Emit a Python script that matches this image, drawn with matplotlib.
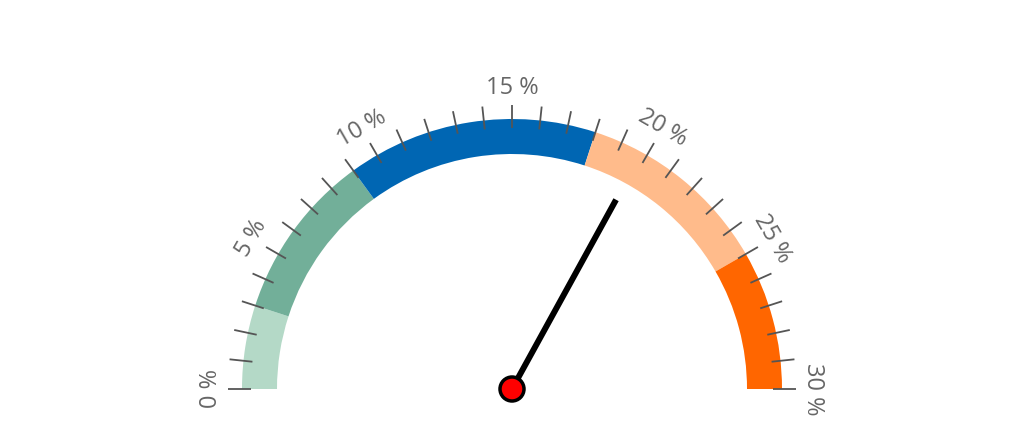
import numpy as np
import matplotlib
matplotlib.use('Agg')
from matplotlib import pyplot as plt
from matplotlib.patches import Wedge, Circle

# gauge data
v_min, v_max = 0, 30
band_edges = [0, 3, 9, 18, 25, 30]
band_colors = ['#b4d9c7', '#72af99', '#0066b3', '#ffbb8b', '#ff6600']
major_ticks = [0, 5, 10, 15, 20, 25, 30]
minor_ticks = list(range(0, 31))
tick_labels = ['0 %', '5 %', '10 %', '15 %', '20 %', '25 %', '30 %']
needle_value = 19.8

def angle(v):
  return 180.0 - (v - v_min) / float(v_max - v_min) * 180.0

def main():
  fig = plt.figure(figsize=(10.24, 4.48), dpi=100)
  ax = fig.add_axes([0, 0, 1, 1])
  ax.set_xlim(-512, 512)
  ax.set_ylim(-59, 389)
  ax.axis('off')

  r_out, r_in = 270, 235
  for lo, hi, c in zip(band_edges[:-1], band_edges[1:], band_colors):
    ax.add_patch(Wedge((0, 0), r_out, angle(hi), angle(lo), width=r_out - r_in,
                       facecolor=c, edgecolor='none'))

  for v in minor_ticks:
    t = np.radians(angle(v))
    ax.plot([261 * np.cos(t), 284 * np.cos(t)], [261 * np.sin(t), 284 * np.sin(t)],
            color='#555555', lw=1.3, solid_capstyle='butt')

  for v, lab in zip(major_ticks, tick_labels):
    a = angle(v)
    t = np.radians(a)
    ax.text(301 * np.cos(t), 301 * np.sin(t), lab, rotation=a - 90,
            rotation_mode='anchor', ha='center', va='center',
            fontsize=17, color='#666666', family=['Open Sans', 'DejaVu Sans'])

  t = np.radians(angle(needle_value))
  ax.plot([0, 216 * np.cos(t)], [0, 216 * np.sin(t)], color='black', lw=4.3,
          solid_capstyle='butt', zorder=4)
  ax.add_patch(Circle((0, 0), 12, facecolor='#ff0000', edgecolor='black', lw=2.5, zorder=5))

  fig.savefig('out.png', dpi=100, facecolor='white')

if __name__ == '__main__':
  main()
